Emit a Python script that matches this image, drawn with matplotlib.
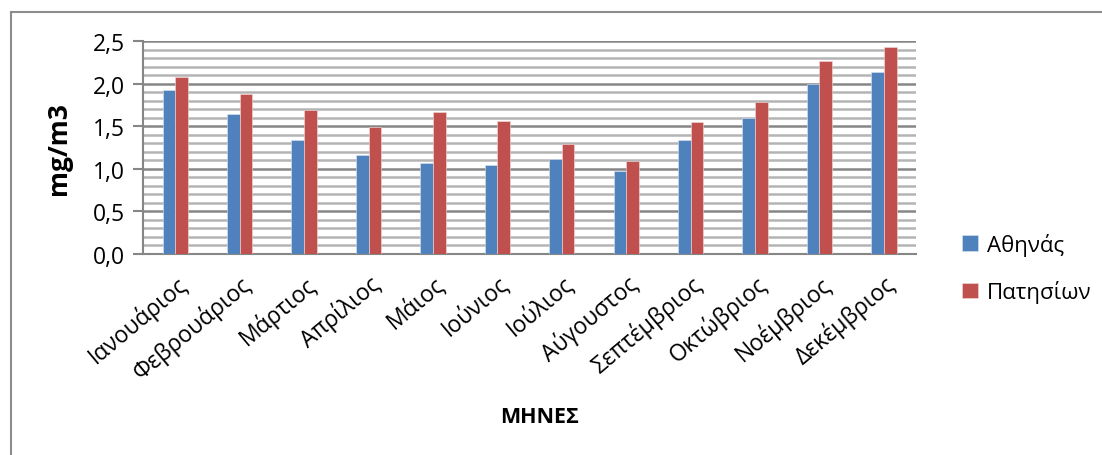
import numpy as np
import matplotlib.pyplot as plt
from matplotlib.lines import Line2D
from matplotlib.ticker import MultipleLocator, FuncFormatter

plt.rcParams['font.family'] = ['Open Sans', 'DejaVu Sans']

months = ["Ιανουάριος", "Φεβρουάριος", "Μάρτιος", "Απρίλιος", "Μάιος", "Ιούνιος",
          "Ιούλιος", "Αύγουστος", "Σεπτέμβριος", "Οκτώβριος", "Νοέμβριος", "Δεκέμβριος"]
athinas = [1.93, 1.64, 1.34, 1.16, 1.07, 1.05, 1.11, 0.98, 1.34, 1.60, 1.99, 2.14]
patision = [2.08, 1.88, 1.69, 1.49, 1.67, 1.56, 1.29, 1.09, 1.55, 1.79, 2.26, 2.43]

fig = plt.figure(figsize=(11.02, 4.56), dpi=100)
ax = fig.add_axes([0.1298, 0.4408, 0.7015, 0.467])

x = np.arange(len(months))
w = 0.197
ax.bar(x - w / 2, athinas, w, color="#4F81BD", edgecolor="#DCE6F2", linewidth=0.4,
       label="Αθηνάς", zorder=3)
ax.bar(x + w / 2, patision, w, color="#C0504D", edgecolor="#F2DCDB", linewidth=0.4,
       label="Πατησίων", zorder=3)

ax.set_xlim(-0.5, len(months) - 0.5)
ax.set_ylim(0, 2.5)
ax.yaxis.set_major_locator(MultipleLocator(0.5))
ax.yaxis.set_minor_locator(MultipleLocator(0.1))
ax.yaxis.set_major_formatter(FuncFormatter(lambda v, p: f"{v:.1f}".replace(".", ",")))
ax.grid(which="minor", axis="y", color="#B4B4B4", linewidth=1.8, zorder=0)
ax.grid(which="major", axis="y", color="#868686", linewidth=1.8, zorder=1)

for side in ["top", "right"]:
    ax.spines[side].set_visible(False)
ax.spines["left"].set_color("#868686")
ax.spines["left"].set_linewidth(1.5)
ax.spines["bottom"].set_color("#868686")
ax.spines["bottom"].set_linewidth(1.5)

ax.tick_params(axis="y", which="major", length=7, width=1.5, color="#868686",
               labelsize=16.5, pad=6)
ax.tick_params(axis="y", which="minor", length=0)
ax.set_xticks(x)
ax.set_xticklabels(months, rotation=40, ha="right", rotation_mode="anchor", fontsize=16.5)
ax.tick_params(axis="x", length=0, pad=12)

ax.set_ylabel("mg/m3", fontsize=19, fontweight="bold")
ax.yaxis.set_label_coords(-0.092, 0.5)
fig.text(0.49, 0.085, "ΜΗΝΕΣ", fontsize=15.5, fontweight="bold", ha="center", va="center")

ax.legend(loc="center left", bbox_to_anchor=(0.855, 0.41), bbox_transform=fig.transFigure,
          frameon=False, fontsize=16, handlelength=0.7, handleheight=0.7,
          handletextpad=0.4, labelspacing=1.1)

# chart frame
fig.add_artist(Line2D([0.01, 0.01], [0.0, 0.972], color="#8C8C8C", linewidth=1.5))
fig.add_artist(Line2D([0.01, 1.0], [0.972, 0.972], color="#8C8C8C", linewidth=1.5))

fig.savefig("out.png", dpi=100)
